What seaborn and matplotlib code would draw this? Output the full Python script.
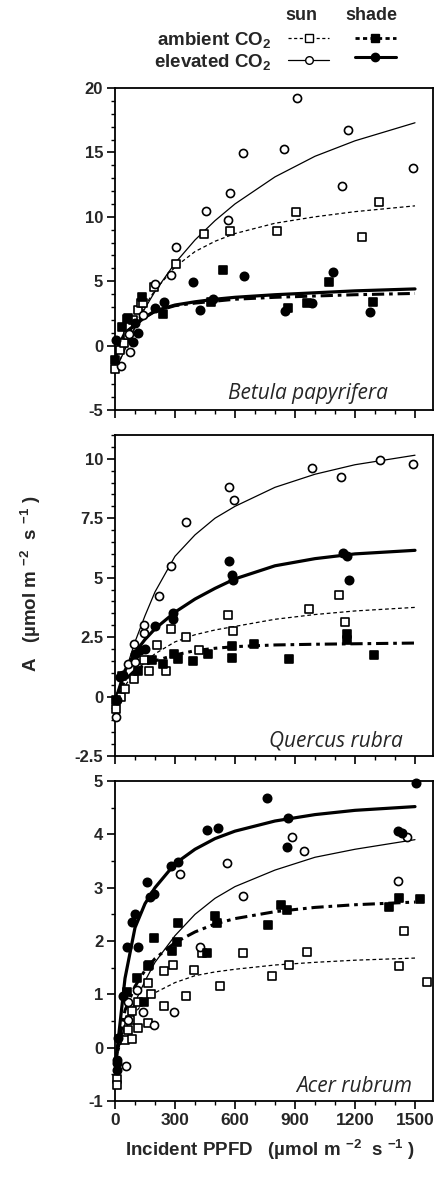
import matplotlib
matplotlib.use("Agg")
import matplotlib.pyplot as plt
import seaborn as sns
import pandas as pd
from matplotlib.lines import Line2D
from matplotlib.ticker import MultipleLocator, FixedLocator

sns.set_theme(style="ticks")
plt.rcParams['font.family'] = ['Liberation Sans', 'DejaVu Sans']
plt.rcParams['mathtext.fontset'] = 'custom'
plt.rcParams['mathtext.rm'] = 'Liberation Sans:bold'
plt.rcParams['mathtext.it'] = 'Liberation Sans:bold'
plt.rcParams['mathtext.bf'] = 'Liberation Sans:bold'

# ---------------- data ----------------
curve_x = [0, 50, 100, 150, 200, 300, 400, 500, 600, 800, 1000, 1200, 1500]

# Betula papyrifera
bet_sun_amb_x = [0, 25, 47, 67, 92, 113, 130, 142, 197, 305, 447, 575, 808, 905, 1233, 1322]
bet_sun_amb_y = [-1.84, -0.34, 0.18, 0.82, 2.0, 2.76, 3.3, 3.28, 4.52, 6.33, 8.64, 8.87, 8.9, 10.4, 8.46, 11.17]
bet_sun_elev_x = [30, 75, 72, 140, 200, 280, 305, 455, 567, 575, 638, 845, 908, 1137, 1165, 1488]
bet_sun_elev_y = [-1.6, -0.47, 0.88, 2.4, 4.78, 5.5, 7.68, 10.45, 9.73, 11.85, 14.93, 15.24, 19.25, 12.4, 16.76, 13.8]
bet_shade_amb_x = [0, 33, 58, 67, 133, 238, 480, 538, 867, 958, 1072, 1292]
bet_shade_amb_y = [-1.12, 1.42, 2.1, 2.12, 3.75, 2.45, 3.41, 5.87, 2.94, 3.33, 4.94, 3.36]
bet_shade_elev_x = [5, 92, 100, 117, 200, 247, 392, 425, 492, 647, 850, 983, 1088, 1275]
bet_shade_elev_y = [0.43, 0.3, 1.73, 1.0, 2.9, 3.41, 4.96, 2.76, 3.62, 5.4, 2.71, 3.33, 5.69, 2.63]
bet_fit_sun_amb = [-2.0, -0.2, 1.5, 3.1, 4.3, 6.1, 7.3, 8.1, 8.7, 9.5, 10.0, 10.4, 10.85]
bet_fit_sun_elev = [-2.0, -0.3, 1.4, 2.9, 4.2, 6.4, 8.2, 9.7, 11.0, 13.1, 14.7, 15.9, 17.3]
bet_fit_shade_amb = [-1.0, 0.9, 1.6, 2.2, 2.65, 3.1, 3.3, 3.45, 3.6, 3.75, 3.85, 3.95, 4.05]
bet_fit_shade_elev = [-0.6, 1.0, 1.6, 2.2, 2.7, 3.15, 3.4, 3.6, 3.75, 3.95, 4.1, 4.25, 4.4]

# Quercus rubra
que_sun_amb_x = [3, 28, 50, 97, 147, 172, 208, 255, 280, 355, 422, 563, 588, 972, 1122, 1150]
que_sun_amb_y = [-0.53, 0.0, 0.3, 0.73, 1.53, 1.08, 2.18, 1.08, 2.83, 2.5, 1.95, 3.44, 2.76, 3.67, 4.28, 3.13]
que_sun_elev_x = [3, 67, 100, 97, 147, 147, 220, 280, 353, 572, 595, 987, 1130, 1325, 1492]
que_sun_elev_y = [-0.85, 1.36, 1.46, 2.23, 2.69, 3.0, 4.22, 5.47, 7.36, 8.83, 8.28, 9.61, 9.22, 9.96, 9.78]
que_shade_amb_x = [5, 33, 113, 183, 238, 295, 317, 392, 467, 583, 583, 695, 872, 1162, 1162, 1295]
que_shade_amb_y = [-0.15, 0.86, 1.07, 1.53, 1.39, 1.81, 1.56, 1.5, 1.81, 2.11, 1.64, 2.23, 1.6, 2.65, 2.37, 1.74]
que_shade_elev_x = [8, 25, 42, 100, 125, 150, 200, 292, 292, 572, 583, 588, 1142, 1158, 1172]
que_shade_elev_y = [-0.15, 0.83, 0.9, 1.81, 1.95, 2.02, 2.95, 3.27, 3.51, 5.68, 5.12, 4.92, 6.03, 5.93, 4.91]
que_fit_sun_amb = [-0.5, 0.45, 1.05, 1.45, 1.8, 2.3, 2.6, 2.8, 2.95, 3.25, 3.45, 3.6, 3.75]
que_fit_sun_elev = [-0.3, 1.0, 2.3, 3.4, 4.4, 5.9, 6.8, 7.5, 8.0, 8.8, 9.35, 9.75, 10.15]
que_fit_shade_amb = [-0.2, 0.7, 1.1, 1.35, 1.5, 1.75, 1.93, 2.03, 2.1, 2.17, 2.2, 2.22, 2.25]
que_fit_shade_elev = [-0.2, 1.1, 1.85, 2.4, 2.85, 3.55, 4.1, 4.55, 4.95, 5.5, 5.8, 6.0, 6.15]

# Acer rubrum
ace_sun_amb_x = [8, 8, 50, 63, 75, 83, 83, 113, 113, 163, 163, 180, 245, 245, 292, 353, 397, 433, 525, 642, 783, 872, 958, 1422, 1445, 1558]
ace_sun_amb_y = [-0.59, -0.7, 0.14, 0.33, 0.52, 0.16, 0.69, 0.36, 0.86, 0.46, 1.21, 1.0, 0.79, 1.44, 1.55, 0.97, 1.46, 1.78, 1.16, 1.78, 1.34, 1.55, 1.8, 1.53, 2.18, 1.24]
ace_sun_elev_x = [55, 67, 67, 108, 142, 197, 295, 325, 425, 558, 638, 883, 947, 1413, 1458]
ace_sun_elev_y = [-0.34, 0.52, 0.86, 1.08, 0.66, 0.43, 0.66, 3.26, 1.88, 3.47, 2.84, 3.95, 3.69, 3.13, 3.95]
ace_shade_amb_x = [58, 112, 147, 167, 172, 197, 283, 308, 317, 462, 500, 512, 763, 828, 862, 1372, 1422, 1525]
ace_shade_amb_y = [1.04, 1.3, 0.86, 1.53, 1.55, 2.05, 1.81, 1.99, 2.33, 1.78, 2.47, 2.33, 2.3, 2.68, 2.58, 2.63, 2.8, 2.78]
ace_shade_elev_x = [8, 12, 12, 17, 42, 58, 83, 100, 117, 162, 175, 195, 280, 317, 458, 517, 762, 858, 867, 1417, 1433, 1505]
ace_shade_elev_y = [-0.24, -0.29, -0.42, 0.18, 0.97, 1.89, 2.36, 2.51, 1.89, 3.11, 2.83, 2.88, 3.41, 3.49, 4.08, 4.11, 4.69, 3.76, 4.3, 4.06, 4.02, 4.96]
ace_fit_sun_amb = [-0.3, 0.35, 0.65, 0.88, 1.03, 1.22, 1.35, 1.42, 1.47, 1.55, 1.6, 1.64, 1.68]
ace_fit_sun_elev = [-0.3, 0.45, 0.85, 1.25, 1.6, 2.1, 2.5, 2.8, 3.02, 3.33, 3.57, 3.72, 3.9]
ace_fit_shade_amb = [-0.3, 0.7, 1.15, 1.45, 1.67, 1.97, 2.17, 2.32, 2.42, 2.55, 2.63, 2.68, 2.73]
ace_fit_shade_elev = [-0.4, 1.3, 2.25, 2.7, 3.0, 3.45, 3.72, 3.92, 4.06, 4.25, 4.37, 4.45, 4.52]

species = ["Betula papyrifera", "Quercus rubra", "Acer rubrum"]
x_ticks = [0, 300, 600, 900, 1200, 1500]
y_ticks = [[-5, 0, 5, 10, 15, 20], [-2.5, 0, 2.5, 5, 7.5, 10], [-1, 0, 1, 2, 3, 4, 5]]
y_tick_labels = [["-5", "0", "5", "10", "15", "20"],
                 ["-2.5", "0", "2.5", "5", "7.5", "10"],
                 ["-1", "0", "1", "2", "3", "4", "5"]]

panels = [
    dict(sa=(bet_sun_amb_x, bet_sun_amb_y), se=(bet_sun_elev_x, bet_sun_elev_y),
         ha=(bet_shade_amb_x, bet_shade_amb_y), he=(bet_shade_elev_x, bet_shade_elev_y),
         fsa=bet_fit_sun_amb, fse=bet_fit_sun_elev, fha=bet_fit_shade_amb, fhe=bet_fit_shade_elev),
    dict(sa=(que_sun_amb_x, que_sun_amb_y), se=(que_sun_elev_x, que_sun_elev_y),
         ha=(que_shade_amb_x, que_shade_amb_y), he=(que_shade_elev_x, que_shade_elev_y),
         fsa=que_fit_sun_amb, fse=que_fit_sun_elev, fha=que_fit_shade_amb, fhe=que_fit_shade_elev),
    dict(sa=(ace_sun_amb_x, ace_sun_amb_y), se=(ace_sun_elev_x, ace_sun_elev_y),
         ha=(ace_shade_amb_x, ace_shade_amb_y), he=(ace_shade_elev_x, ace_shade_elev_y),
         fsa=ace_fit_sun_amb, fse=ace_fit_sun_elev, fha=ace_fit_shade_amb, fhe=ace_fit_shade_elev),
]

# ---------------- style ----------------
W, H = 435, 1181
fig = plt.figure(figsize=(W / 100, H / 100), dpi=100)
left, width = 115 / W, 318 / W
boxes = [(88, 410), (435, 756), (781, 1101)]
ylims = [(-5, 20), (-2.5, 11), (-1, 5)]
minors = [1, 0.5, 0.5]
spec_pos = [(388, 404), (403, 752), (412, 1097)]

DASH_SUN = (3.0, 2.2)
DASH_SHADE = (4.0, 1.6, 1.2, 1.6)
line_styles = {
    'fsa': dict(lw=0.9, dashes=DASH_SUN),
    'fse': dict(lw=0.9, dashes=None),
    'fha': dict(lw=2.2, dashes=DASH_SHADE),
    'fhe': dict(lw=2.3, dashes=None),
}
mk_styles = {
    'sa': dict(marker='s', facecolor='white', s=32),
    'se': dict(marker='o', facecolor='white', s=34),
    'ha': dict(marker='s', facecolor='black', s=36),
    'he': dict(marker='o', facecolor='black', s=36),
}

bold = dict(fontweight='bold')
for i, p in enumerate(panels):
    top, bot = boxes[i]
    ax = fig.add_axes([left, 1 - bot / H, width, (bot - top) / H])
    for key in ['fsa', 'fse', 'fha', 'fhe']:
        df = pd.DataFrame({'x': curve_x, 'y': p[key]})
        st = line_styles[key]
        sns.lineplot(data=df, x='x', y='y', ax=ax, color='black', lw=st['lw'],
                     sort=False, estimator=None, zorder=2)
        ln = ax.lines[-1]
        if st['dashes'] is not None:
            ln.set_dashes(st['dashes'])
    for key in ['sa', 'se', 'ha', 'he']:
        xs, ys = p[key]
        df = pd.DataFrame({'x': xs, 'y': ys})
        st = mk_styles[key]
        sns.scatterplot(data=df, x='x', y='y', ax=ax, marker=st['marker'], s=st['s'],
                        facecolor=st['facecolor'], edgecolor='black', linewidth=1.2,
                        zorder=3, clip_on=False)
    ax.set_xlim(0, 1590)
    ax.set_ylim(*ylims[i])
    ax.xaxis.set_major_locator(FixedLocator(x_ticks))
    ax.xaxis.set_minor_locator(MultipleLocator(100))
    ax.yaxis.set_major_locator(FixedLocator(y_ticks[i]))
    ax.yaxis.set_minor_locator(MultipleLocator(minors[i]))
    ax.set_yticklabels(y_tick_labels[i], fontsize=12, fontweight='bold')
    if i == 2:
        ax.set_xticklabels([str(t) for t in x_ticks], fontsize=12.5, fontweight='bold')
    else:
        ax.set_xticklabels([])
    ax.set_xlabel('')
    ax.set_ylabel('')
    ax.tick_params(which='major', direction='out', length=5.5, width=1.2, color='black', pad=3)
    ax.tick_params(which='minor', direction='out', length=3, width=1.0, color='black')
    for s in ax.spines.values():
        s.set_visible(True)
        s.set_linewidth(1.3)
        s.set_color('black')
    sx, sy = spec_pos[i]
    fig.text(sx / W, 1 - sy / H, species[i], ha='right', va='bottom',
             fontsize=15, style='italic', family=['Open Sans', 'DejaVu Sans'])

# axis labels
fig.text(270 / W, 1 - 1150 / H, r"Incident PPFD   (µmol m $^{-2}$  s $^{-1}$ )",
         ha='center', va='center', fontsize=13.5, **bold)
fig.text(31 / W, 1 - 584 / H, r"A   (µmol m $^{-2}$  s $^{-1}$ )",
         ha='center', va='center', rotation=90, fontsize=13.5, **bold)

# legend
h_sa = Line2D([], [], color='black', lw=0.9, dashes=(2.5, 2.0), marker='s', ms=5.5,
              mfc='white', mec='black', mew=1.0)
h_se = Line2D([], [], color='black', lw=0.9, marker='o', ms=5.5,
              mfc='white', mec='black', mew=1.0)
h_ha = Line2D([], [], color='black', lw=2.0, dashes=(1.5, 1.2), marker='s', ms=6,
              mfc='black', mec='black')
h_he = Line2D([], [], color='black', lw=2.2, marker='o', ms=6,
              mfc='black', mec='black')
leg = fig.legend(handles=[h_sa, h_se, h_ha, h_he],
                 labels=["ambient CO$_2$", "elevated CO$_2$", "", ""],
                 ncol=2, markerfirst=False, frameon=False,
                 loc='upper right', bbox_to_anchor=(396 / W, 1 - 30 / H),
                 prop=dict(family='Liberation Sans', weight='bold', size=13.5),
                 handlelength=2.2, handletextpad=0.9, columnspacing=0.45,
                 labelspacing=0.1, borderpad=0.0, borderaxespad=0.0)
fig.text(301 / W, 1 - 15 / H, "sun", ha='center', va='center', fontsize=13, **bold)
fig.text(371 / W, 1 - 15 / H, "shade", ha='center', va='center', fontsize=13, **bold)

fig.savefig("out.png", dpi=100)
